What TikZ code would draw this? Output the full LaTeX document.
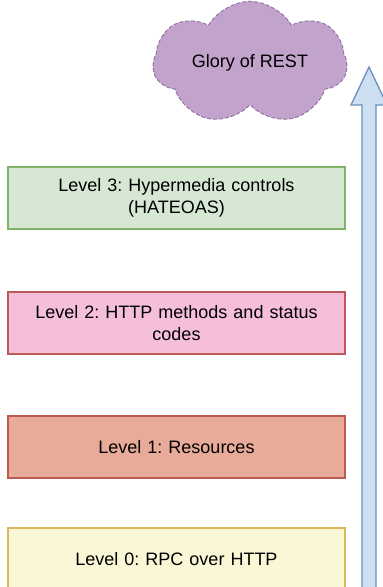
\documentclass[tikz,border=0pt]{standalone}
\usepackage{fontspec}
\setmainfont{Liberation Sans}
\frenchspacing
\usetikzlibrary{positioning,shapes.symbols}
\definecolor{lilac}{rgb}{0.76,0.64,0.80}
\definecolor{lilacborder}{rgb}{0.59,0.45,0.65}
\definecolor{mintgreen}{rgb}{0.84,0.91,0.83}
\definecolor{mintborder}{rgb}{0.51,0.70,0.40}
\definecolor{pastelpink}{rgb}{0.96,0.75,0.86}
\definecolor{brickred}{rgb}{0.75,0.35,0.33}
\definecolor{salmon}{rgb}{0.91,0.67,0.60}
\definecolor{cream}{rgb}{0.98,0.97,0.84}
\definecolor{mustard}{rgb}{0.85,0.72,0.36}
\definecolor{paleblue}{rgb}{0.80,0.88,0.95}
\definecolor{steelblue}{rgb}{0.42,0.56,0.75}
\tikzset{
  nivel/.style={
    draw,
    line width=1.2pt,
    align=center,
    text width=320pt,
    minimum width=337pt,
    minimum height=62pt,
    inner sep=0pt,
    font=\fontsize{18}{22}\selectfont
  },
  nube/.style={
    cloud,
    cloud puffs=7,
    cloud puff arc=120,
    aspect=1.8,
    draw=lilacborder,
    fill=lilac,
    dash pattern=on 4pt off 2pt,
    line width=1pt,
    minimum width=194pt,
    minimum height=107pt,
    inner sep=0pt,
    font=\fontsize{18}{22}\selectfont
  },
  flecha/.style={
    draw=steelblue,
    fill=paleblue,
    line width=1.3pt,
    line join=miter
  }
}
\begin{document}
\begin{tikzpicture}[x=1pt,y=-1pt]
\useasboundingbox (0,0) rectangle (383,587);
\clip (0,0) rectangle (383,587);
\node[nube] (gloria) at (250,63) {Glory of REST};
\node[nivel, fill=mintgreen, draw=mintborder] (n3) at (176.5,198) {Level 3: Hypermedia controls\\(HATEOAS)};
\node[nivel, fill=pastelpink, draw=brickred] (n2) at (176.5,323) {Level 2: HTTP methods and status\\codes};
\node[nivel, fill=salmon, draw=brickred] (n1) at (176.5,447) {Level 1: Resources};
\node[nivel, fill=cream, draw=mustard] (n0) at (176.5,559) {Level 0: RPC over HTTP};
% flecha de madurez
\draw[flecha] (362,592) -- (362,105) -- (351,105) -- (369,67) -- (387,105)
  -- (376,105) -- (376,592) -- cycle;
\end{tikzpicture}
\end{document}
